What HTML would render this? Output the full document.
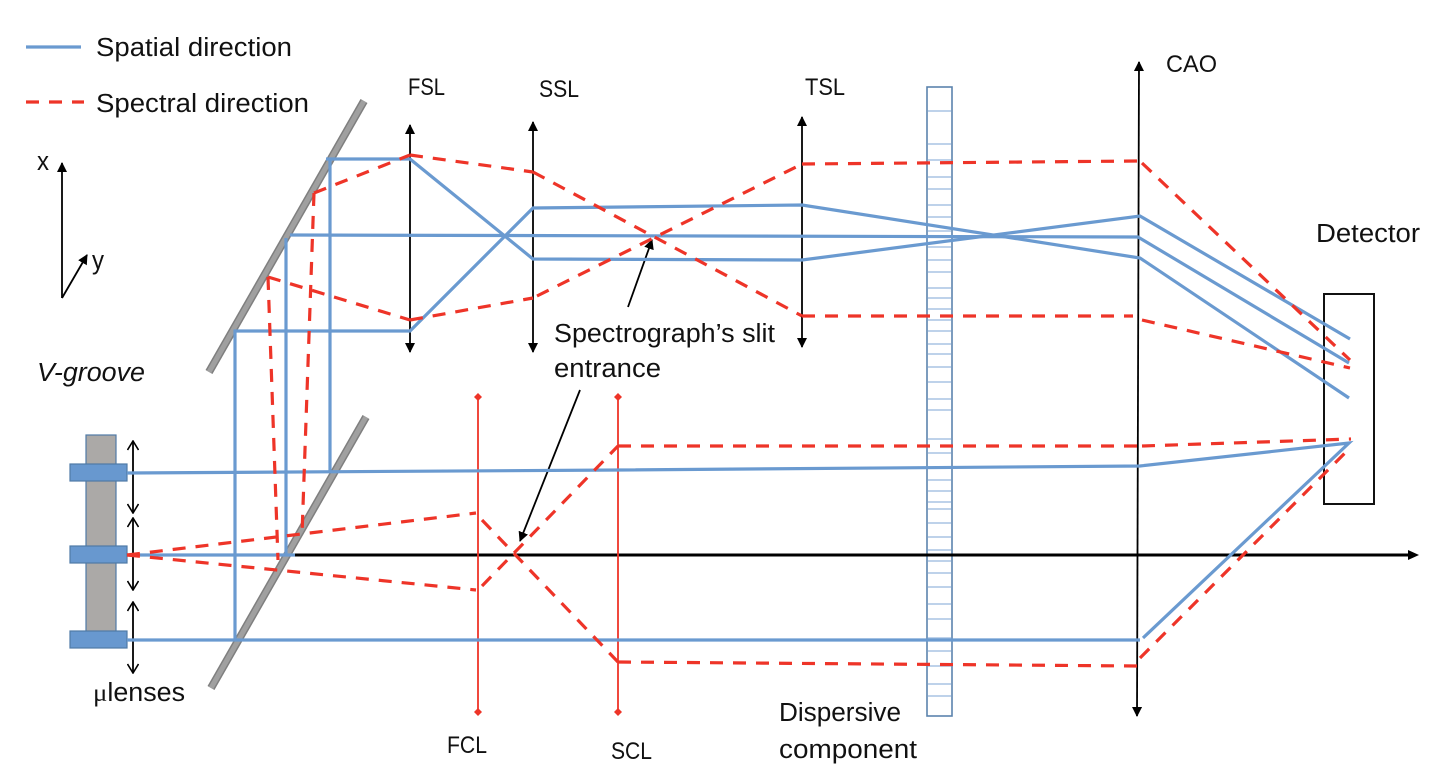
<!DOCTYPE html>
<html lang="en">
<head>
<meta charset="utf-8">
<title>Optical diagram</title>
<style>
html,body{margin:0;padding:0;background:#fff;}
svg{display:block;}
text{font-family:"Liberation Sans",sans-serif;font-size:25.5px;fill:#111;}
text.c{font-size:24px;}
.b{fill:none;stroke:#6a9ad0;stroke-width:3.2;stroke-linejoin:miter;}
.r{fill:none;stroke:#ee3428;stroke-width:3.2;stroke-dasharray:13 10;}
.k{fill:none;stroke:#000;stroke-width:1.8;}
.rs{stroke:#ee3428;stroke-width:1.8;}
</style>
</head>
<body>
<svg width="1446" height="778" viewBox="0 0 1446 778" xmlns="http://www.w3.org/2000/svg">
<defs>
<marker id="a" viewBox="0 0 10 10" refX="9" refY="5" markerWidth="10" markerHeight="10" markerUnits="userSpaceOnUse" orient="auto-start-reverse"><path d="M0 0L10 5L0 10Z" fill="#000"/></marker>
<marker id="o" viewBox="0 0 12 12" refX="11" refY="6" markerWidth="12" markerHeight="12" markerUnits="userSpaceOnUse" orient="auto-start-reverse"><path d="M2 .5L11 6L2 11.5" fill="none" stroke="#000" stroke-width="1.6"/></marker>
</defs>

<!-- V-groove and lenses -->
<rect x="86" y="435" width="30" height="197" fill="#aba9a7" stroke="#4f7aa6" stroke-width="1.2"/>
<g fill="#6898cf" stroke="#4f7aa6" stroke-width="1.2">
<rect x="70" y="464" width="57" height="17"/>
<rect x="70" y="546" width="57" height="17"/>
<rect x="70" y="631" width="57" height="17"/>
</g>

<!-- mirrors -->
<path d="M364 101L209 372" stroke="#7f7f7f" stroke-width="8"/>
<path d="M364 101L209 372" stroke="#a0a0a0" stroke-width="5"/>
<path d="M366 417L211 688" stroke="#7f7f7f" stroke-width="8"/>
<path d="M366 417L211 688" stroke="#a0a0a0" stroke-width="5"/>

<!-- dispersive component -->
<rect x="927" y="87" width="25" height="629" fill="#fff" stroke="#5c83ad" stroke-width="1.6"/>
<path d="M928 111H951M928 144H951M928 160H951M928 177H951M928 189H951M928 205H951M928 217H951M928 231H951M928 247H951M928 260H951M928 272H951M928 288H951M928 298H951M928 309H951M928 320H951M928 331H951M928 344H951M928 354H951M928 367H951M928 382H951M928 399H951M928 410H951M928 439H951M928 453H951M928 480H951M928 491H951M928 502H951M928 509H951M928 523H951M928 537H951M928 550H951M928 561H951M928 573H951M928 587H951M928 604H951M928 619H951M928 638H951M928 651H951M928 666H951M928 684H951M928 696H951" stroke="#a9c3e3" stroke-width="1.4" fill="none"/>

<!-- main axis -->
<path d="M127 555H1412" stroke="#000" stroke-width="3"/>
<path d="M1408 550L1419 555L1408 560Z" fill="#000"/>

<!-- lens arrows -->
<path class="k" d="M410 125V352" marker-start="url(#a)" marker-end="url(#a)"/>
<path class="k" d="M533 122V352" marker-start="url(#a)" marker-end="url(#a)"/>
<path class="k" d="M802 117V347" marker-start="url(#a)" marker-end="url(#a)"/>
<path class="k" d="M1139 62L1137 716" marker-start="url(#a)" marker-end="url(#a)"/>

<!-- microlens arrows -->
<path class="k" d="M133 441V513" marker-start="url(#o)" marker-end="url(#o)"/>
<path class="k" d="M133 518V590" marker-start="url(#o)" marker-end="url(#o)"/>
<path class="k" d="M133 602V673" marker-start="url(#o)" marker-end="url(#o)"/>

<!-- xy axes -->
<path class="k" d="M62 298V163" marker-end="url(#a)"/>
<path class="k" d="M62 298L87 255" marker-end="url(#a)"/>

<!-- slit pointers -->
<path class="k" d="M628 307L652 240" marker-end="url(#a)"/>
<path class="k" d="M580 390L520 541" marker-end="url(#a)"/>

<!-- red cylindrical lenses -->
<path class="rs" d="M478 397V712M618 397V712"/>
<path d="M478 393l4 4l-4 4l-4-4ZM618 393l4 4l-4 4l-4-4ZM478 708l4 4l-4 4l-4-4ZM618 708l4 4l-4 4l-4-4Z" fill="#ee3428"/>

<!-- detector -->
<rect x="1324" y="294" width="50" height="210" fill="none" stroke="#111" stroke-width="2"/>

<!-- blue rays -->
<path class="b" d="M26 47H81"/>
<path class="b" d="M127 473L620 470L1140 466L1349 443L1143 638"/>
<path class="b" d="M127 555H295"/>
<path class="b" d="M127 640L1140 640"/>
<path class="b" d="M235 640V331H410L533 208L802 205L1140 258L1349 398"/>
<path class="b" d="M286 555V238"/>
<path class="b" d="M290 235L1138 237L1349 363"/>
<path class="b" d="M330 471V159"/>
<path class="b" d="M326 159H410L533 259L802 260L1140 216L1350 339"/>

<!-- red rays -->
<path class="r" d="M26 102H84"/>
<path class="r" d="M127 555L476 513"/>
<path class="r" d="M482 520L618 662"/>
<path class="r" d="M618 662L1138 666"/>
<path class="r" d="M1140 658L1351 447"/>
<path class="r" d="M127 555L476 590"/>
<path class="r" d="M482 586L618 446"/>
<path class="r" d="M618 446L1138 446"/>
<path class="r" d="M1142 446L1351 439"/>
<path class="r" d="M268 277L278 560"/>
<path class="r" d="M268 277L410 320"/>
<path class="r" d="M410 320L533 298"/>
<path class="r" d="M537 296L802 164"/>
<path class="r" d="M802 164L1138 161"/>
<path class="r" d="M1142 163L1350 360"/>
<path class="r" d="M314 193L302 535"/>
<path class="r" d="M314 193L410 155"/>
<path class="r" d="M410 155L533 172"/>
<path class="r" d="M533 172L802 316"/>
<path class="r" d="M802 316L1133 316"/>
<path class="r" d="M1142 320L1350 368"/>

<!-- labels -->
<text x="96" y="56" textLength="196" lengthAdjust="spacingAndGlyphs">Spatial direction</text>
<text x="96" y="112" textLength="213" lengthAdjust="spacingAndGlyphs">Spectral direction</text>
<text class="c" x="408" y="95" textLength="37" lengthAdjust="spacingAndGlyphs">FSL</text>
<text class="c" x="539" y="97" textLength="40" lengthAdjust="spacingAndGlyphs">SSL</text>
<text class="c" x="805" y="95" textLength="40" lengthAdjust="spacingAndGlyphs">TSL</text>
<text class="c" x="1166" y="72" textLength="51" lengthAdjust="spacingAndGlyphs">CAO</text>
<text x="1316" y="242" textLength="104" lengthAdjust="spacingAndGlyphs">Detector</text>
<text x="37" y="170" textLength="12" lengthAdjust="spacingAndGlyphs">x</text>
<text x="92" y="269" textLength="12" lengthAdjust="spacingAndGlyphs">y</text>
<text x="37" y="381" textLength="108" lengthAdjust="spacingAndGlyphs" font-style="italic">V-groove</text>
<text x="93" y="701" textLength="92" lengthAdjust="spacingAndGlyphs"><tspan font-family="Liberation Serif, serif">μ</tspan>lenses</text>
<text x="554" y="342" textLength="221" lengthAdjust="spacingAndGlyphs">Spectrograph’s slit</text>
<text x="554" y="377" textLength="107" lengthAdjust="spacingAndGlyphs">entrance</text>
<text class="c" x="447" y="753" textLength="40" lengthAdjust="spacingAndGlyphs">FCL</text>
<text class="c" x="611" y="759" textLength="41" lengthAdjust="spacingAndGlyphs">SCL</text>
<text x="779" y="721" textLength="122" lengthAdjust="spacingAndGlyphs">Dispersive</text>
<text x="779" y="758" textLength="138" lengthAdjust="spacingAndGlyphs">component</text>
</svg>
</body>
</html>
